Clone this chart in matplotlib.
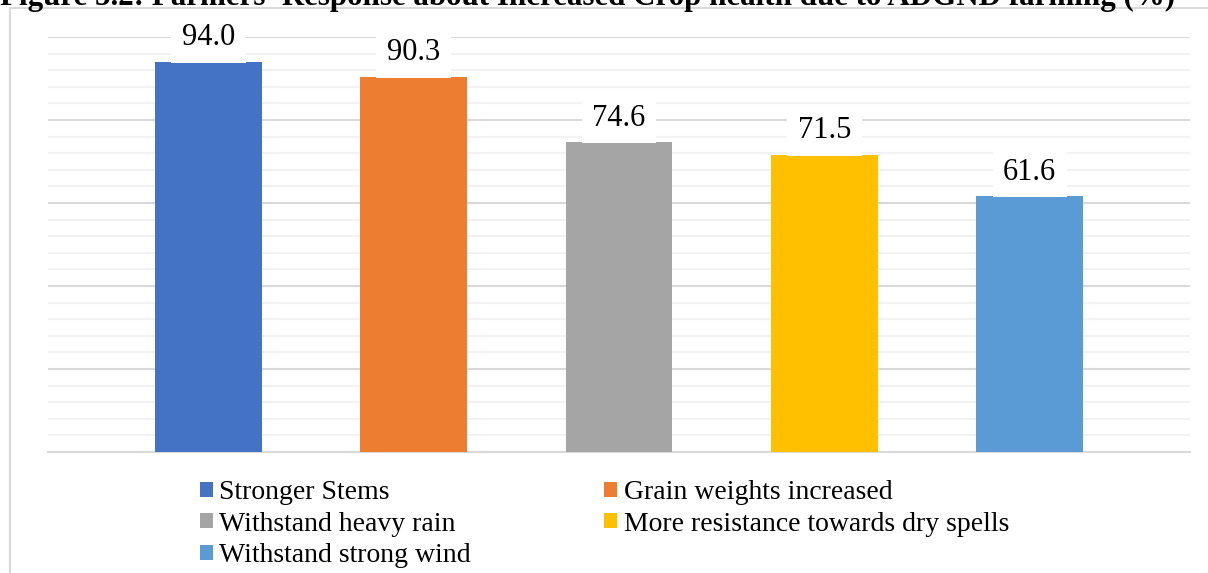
import numpy as np
import matplotlib
matplotlib.use('Agg')
import matplotlib.pyplot as plt
from matplotlib.patches import Rectangle

# farmers' response, percent of respondents
labels = ['Stronger Stems', 'Grain weights increased', 'Withstand heavy rain',
          'More resistance towards dry spells', 'Withstand strong wind']
values = [94.0, 90.3, 74.6, 71.5, 61.6]
colors = ['#4472c4', '#ed7d31', '#a5a5a5', '#ffc000', '#5b9bd5']

plt.rcParams['font.family'] = ['Liberation Serif', 'DejaVu Serif']

fig = plt.figure(figsize=(12.08, 5.73), dpi=100)
W, H = 1208, 573

# caption (page crop cuts off its upper half)
fig.text(0.0, 1 - 5 / H, "Figure 5.2: Farmers' Response about Increased Crop health due to ADGND farming (%)",
         fontsize=22.3, fontweight='bold', ha='left', va='baseline')

# chart frame
fig.patches.append(Rectangle((10 / W, -0.1), 1.2, 1 - 8 / H + 0.1, transform=fig.transFigure,
                             fill=False, edgecolor='#d9d9d9', linewidth=1.5, zorder=0))

ax = fig.add_axes([48 / W, 121 / H, (1190 - 48) / W, 415 / H])
ind = np.arange(len(values))
width = 0.52
bars = []
for i in range(len(values)):
    b = ax.bar(ind[i], values[i], width, color=colors[i], zorder=3, label=labels[i])
    bars.append(b)

ax.set_ylim(0, 100)
ax.set_xlim(-0.78, len(values) - 1 + 0.78)
ax.set_yticks(np.arange(0, 101, 20))
ax.set_yticks(np.arange(0, 101, 4), minor=True)
ax.grid(axis='y', which='major', color='#d9d9d9', linewidth=1.5, zorder=0)
ax.grid(axis='y', which='minor', color='#f2f2f2', linewidth=1.5, zorder=0)
ax.tick_params(axis='both', which='both', length=0, labelleft=False, labelbottom=False)
for s in ['top', 'right', 'left']:
    ax.spines[s].set_visible(False)
ax.spines['bottom'].set_color('#d9d9d9')
ax.spines['bottom'].set_linewidth(1.5)
ax.patch.set_alpha(0)

# value labels on white boxes
for i, v in enumerate(values):
    ax.annotate('%.1f' % v, (ind[i], v), xytext=(0, 17.5), textcoords='offset points',
                ha='center', va='center', fontsize=22, zorder=5,
                bbox=dict(boxstyle='square,pad=0.35', facecolor='white', edgecolor='none'))

order = [0, 2, 4, 1, 3]
leg = fig.legend([bars[i] for i in order], [labels[i] for i in order], ncol=2,
                 loc='upper left', bbox_to_anchor=(200 / W, 1 - 480 / H), frameon=False,
                 fontsize=20, handlelength=0.45, handleheight=0.45, handletextpad=0.25,
                 labelspacing=0.24, columnspacing=4.8, borderpad=0, borderaxespad=0)

fig.savefig('out.png', dpi=100)
